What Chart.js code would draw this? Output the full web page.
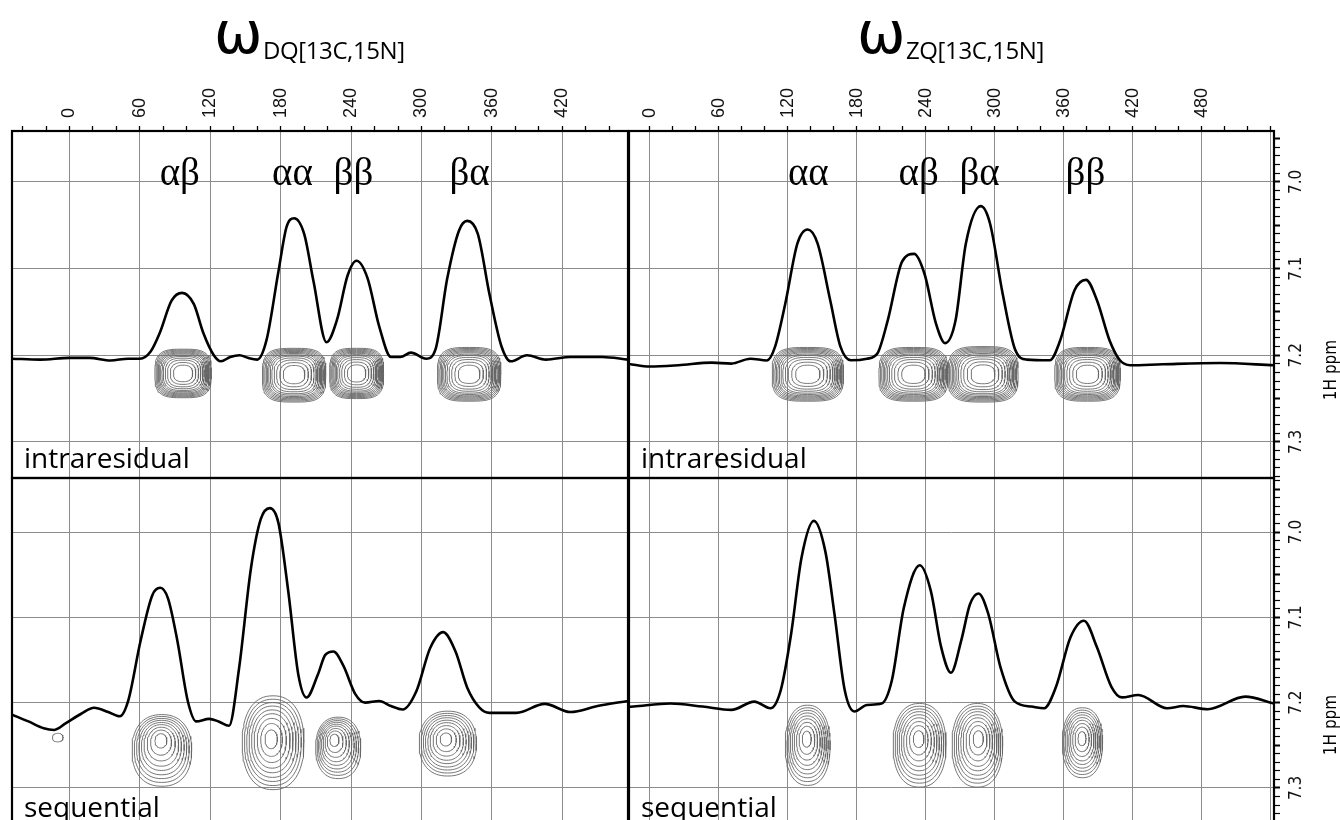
<!DOCTYPE html>
<html>
<head>
<meta charset="utf-8">
<script src="https://cdn.jsdelivr.net/npm/chart.js@4.4.1/dist/chart.umd.min.js"></script>
<style>
  html, body { margin: 0; padding: 0; background: #fff; overflow: hidden; }
  body { width: 1340px; height: 820px; position: relative; }
  .panel { position: absolute; }
  .panel canvas { display: block; }
  .txt { position: absolute; white-space: nowrap; color: #000; line-height: 1; }
  .omega { font-family: "DejaVu Sans", sans-serif; font-size: 58px; }
  .sub { font-family: "Open Sans", sans-serif; font-size: 24px; letter-spacing: -0.4px; }
  .name { font-family: "Open Sans", sans-serif; font-size: 28px; }
  .ppm { font-family: "Liberation Sans Narrow", "DejaVu Sans Condensed", sans-serif; font-size: 17px;
         transform: translate(-50%, -50%) rotate(-90deg); }
</style>
</head>
<body>

<div class="panel" style="left:0;top:50px"><canvas id="dqIntra" width="640" height="440"></canvas></div>
<div class="panel" style="left:617px;top:50px"><canvas id="zqIntra" width="723" height="440"></canvas></div>
<div class="panel" style="left:0;top:466px"><canvas id="dqSeq" width="640" height="356"></canvas></div>
<div class="panel" style="left:617px;top:466px"><canvas id="zqSeq" width="723" height="356"></canvas></div>

<div class="txt omega" style="left:214px;top:4px">ω</div>
<div class="txt sub" style="left:263px;top:38px">DQ[13C,15N]</div>
<div class="txt omega" style="left:857px;top:4px">ω</div>
<div class="txt sub" style="left:906px;top:38px">ZQ[13C,15N]</div>

<div class="txt name" style="left:24px;top:443px">intraresidual</div>
<div class="txt name" style="left:641px;top:443px">intraresidual</div>
<div class="txt name" style="left:24px;top:792px">sequential</div>
<div class="txt name" style="left:641px;top:792px">sequential</div>

<div class="txt ppm" style="left:1330px;top:370px">1H ppm</div>
<div class="txt ppm" style="left:1330px;top:725px">1H ppm</div>

<script>
// axis ranges (13C/15N frequency, 1H ppm)
const dqRange = [-49, 476];
const zqRange = [-18, 543];
const intraPpm = [6.9413, 7.3416];
const seqPpm = [6.9367, 7.3399];
const traceBase = 7.2;   // the 1D projections sit on the 7.2 ppm line

// labelled ticks
const dqTickLabels = [0, 60, 120, 180, 240, 300, 360, 420];
const zqTickLabels = [0, 60, 120, 180, 240, 300, 360, 420, 480];
const ppmTickLabels = [7.0, 7.1, 7.2, 7.3];

// 1D projections: x position, intensity (100 = 0.1 ppm of height)
const dqIntraX = [-49, -25, 0, 17, 35, 50, 60, 69, 77, 87, 96, 106, 114, 123, 129, 137, 145, 152, 160, 168, 178, 185, 191.5, 200, 208, 219, 228, 237, 244.6, 254, 264, 274, 282, 291, 304, 312, 322, 332, 339, 348, 358, 368, 376, 390, 406, 427, 454, 476];
const dqIntraI = [-4, -5, -3, -3, -6, -4, -4, 4, 26, 63, 72, 59, 26, 0, -7, -2, 0, -3, -5, 18, 96, 148, 158, 140, 85, 15, 41, 92, 109, 89, 33, -2, -2, 3, -4, 7, 89, 144, 155, 140, 70, 11, -7, 0, -5, -2, -2, -5];

const zqIntraX = [-18, 0, 25, 54, 71, 87.5, 102, 109, 118, 128.5, 137.4, 146, 157, 166, 175, 189, 198, 207, 219.5, 230, 239, 249, 257, 266, 275, 288, 296, 307, 318, 328, 348, 357, 369.5, 379.5, 389, 400, 409, 418, 446, 496, 543];
const zqIntraI = [-10, -13, -11.5, -8.5, -9.6, -4, -6, 9.6, 60, 129, 145, 129, 63.5, 9.6, -5.8, -4, 2, 40, 108, 117, 94, 36.6, 14, 40, 129, 172, 152, 71, 6, -5, -5.8, 17, 75, 87, 63.5, 17, -5.8, -11.5, -10.4, -9, -11.5];

const dqSeqX = [-49, -35, -22, -13, -3, 10, 21, 33, 43, 50, 60.5, 70.6, 77.3, 84, 92, 100.8, 108, 119, 127, 136, 144.5, 154.6, 163, 170.7, 178, 186.5, 195, 202, 211.7, 218, 225, 233.5, 243.6, 252, 264, 274, 284, 295.7, 307.4, 318.5, 329, 339, 349.4, 358, 381, 405, 427, 450, 476];
const dqSeqI = [-14, -22, -30, -32, -24, -13, -6, -11, -16, 2, 72, 126, 134.6, 122, 72, 2, -22, -19, -22, -27, 40, 157, 215, 228, 211, 130, 33, 6, 33, 56, 60, 43, 10, 0, 2, -4, -8, 13.6, 64, 82.6, 60, 17.5, -5.8, -12, -12, -1.5, -11, -4, 2];

const zqSeqX = [-18, -14, 18, 46, 71, 91, 105, 114, 123, 132, 142.8, 152.8, 160.7, 169.6, 178, 189, 201.7, 210.6, 221, 235, 244.5, 253.5, 262, 271, 278.5, 286, 294.5, 305, 317.6, 332, 343, 353.4, 366, 377.7, 389, 401.6, 410.6, 425, 450, 464, 485.5, 518, 543];
const zqSeqI = [-5, -4.6, -1, -4.6, -8.5, 1.2, -6.6, 14.7, 80.5, 169.5, 213, 177, 104, 14.7, -10.4, -2.7, -1, 26, 111, 161, 131, 65, 35, 73, 115, 128, 104, 42, 1.2, -4.6, -6.6, 18.6, 76.6, 96, 65, 18.6, 6.2, 9, -6.6, -4, -7.7, 7, -1];

// 2D cross peaks: [x, ppm of inner ring, half width x, half height ppm, outer shift x, outer shift ppm]
const dqIntraPeaks = [[96.8, 7.221, 24, 0.028, 0, 0], [191.4, 7.222, 27, 0.031, 0, 0.001], [244.7, 7.221, 23, 0.029, 0, 0], [340.6, 7.222, 27, 0.031, 0, 0]];
const zqIntraPeaks = [[137.5, 7.222, 31, 0.031, 0, 0], [229.4, 7.222, 30, 0.031, 0, 0], [289.9, 7.222, 30.5, 0.032, 0, 0], [380.8, 7.222, 28.5, 0.031, 0, 0]];
const dqSeqPeaks = [[77.7, 7.242, 25.4, 0.042, 1, 0.014], [171.5, 7.242, 26.3, 0.055, 2, 0.005], [225, 7.242, 19.2, 0.036, 4, 0.011], [320.4, 7.242, 24.4, 0.038, 2, 0.006]];
const dqSeqSmall = [[-10, 7.241, 4.5, 0.005, 0, 0]];
const zqSeqPeaks = [[136.4, 7.241, 19.5, 0.047, 1, 0.009], [233.7, 7.241, 23, 0.049, 1, 0.009], [286, 7.241, 22, 0.049, -1, 0.009], [375.9, 7.241, 17.5, 0.041, 0.5, 0.006]];

// contour levels as fraction of the outer ring
const intraRings = [1, 0.96, 0.92, 0.88, 0.84, 0.8, 0.75, 0.7, 0.63, 0.55, 0.45, 0.34];
const seqRings = [1, 0.92, 0.84, 0.76, 0.67, 0.58, 0.47, 0.35, 0.2];

// peak labels
const dqLabels = ['αβ', 'αα', 'ββ', 'βα'];
const dqLabelX = [94, 190, 242, 341];
const zqLabels = ['αα', 'αβ', 'βα', 'ββ'];
const zqLabelX = [138, 234, 287, 379];
const labelPpm = 7.004;

const gridGrey = '#8c8c8c';
const clear = 'rgba(0,0,0,0)';
const isMult = (v, step) => Math.abs(v / step - Math.round(v / step)) < 1e-6;
const inList = (v, list) => list.some(t => Math.abs(t - v) < 1e-6);

function ringPoints(peaks, rings, sq) {
  const pts = [];
  peaks.forEach(([px, pp, hw, hh, dx, dp]) => {
    rings.forEach(f => {
      const cx = px + dx * f, cy = pp + dp * f, n = 2 + sq * f;
      for (let k = 0; k <= 72; k++) {
        const t = Math.PI * 2 * k / 72, c = Math.cos(t), s = Math.sin(t);
        pts.push({
          x: cx + hw * f * Math.sign(c) * Math.pow(Math.abs(c), 2 / n),
          y: cy + hh * f * Math.sign(s) * Math.pow(Math.abs(s), 2 / n)
        });
      }
      pts.push({ x: cx, y: null });
    });
  });
  return pts;
}

const framePlugin = {
  id: 'frame',
  afterDraw(chart) {
    const { ctx, chartArea: a } = chart;
    ctx.save();
    ctx.strokeStyle = '#000';
    ctx.lineWidth = 2.2;
    ctx.strokeRect(a.left, a.top, a.right - a.left, a.bottom - a.top);
    ctx.restore();
  }
};

function labelPlugin(labels, xs) {
  return {
    id: 'peakLabels',
    afterDatasetsDraw(chart) {
      const { ctx } = chart;
      ctx.save();
      ctx.font = '39px "Liberation Serif", serif';
      ctx.fillStyle = '#000';
      ctx.textAlign = 'center';
      ctx.textBaseline = 'alphabetic';
      labels.forEach((t, i) => {
        ctx.fillText(t, chart.scales.x.getPixelForValue(xs[i]), chart.scales.y.getPixelForValue(labelPpm));
      });
      ctx.restore();
    }
  };
}

function makePanel(id, p) {
  const datasets = [{
    data: p.tx.map((x, i) => ({ x, y: p.ti[i] })),
    yAxisID: 'yI', showLine: true, borderColor: '#000', borderWidth: 2.6,
    pointRadius: 0, cubicInterpolationMode: 'monotone', order: 0
  }];
  p.contours.forEach(([peaks, rings]) => datasets.push({
    data: ringPoints(peaks, rings, p.sq),
    yAxisID: 'y', showLine: true, borderColor: '#666', borderWidth: 0.9,
    pointRadius: 0, spanGaps: false, order: 1
  }));

  const plugins = [framePlugin];
  if (p.labels) plugins.push(labelPlugin(p.labels, p.labelX));

  new Chart(document.getElementById(id), {
    type: 'scatter',
    data: { datasets },
    plugins,
    options: {
      responsive: false,
      animation: false,
      events: [],
      layout: { padding: p.pad },
      plugins: { legend: { display: false }, tooltip: { enabled: false } },
      scales: {
        x: {
          type: 'linear', position: 'top', min: p.xr[0], max: p.xr[1],
          afterFit: s => { s.height = p.top ? 70 : 0; s.paddingLeft = 0; s.paddingRight = 0; },
          border: { display: false },
          grid: {
            color: c => (c.tick && isMult(c.tick.value, 60)) ? gridGrey : clear,
            lineWidth: 1, drawTicks: p.top, tickLength: 5, tickColor: '#000', tickWidth: 1.3
          },
          ticks: {
            display: p.top, stepSize: 20, includeBounds: false, autoSkip: false,
            minRotation: 90, maxRotation: 90, padding: 8, labelOffset: 21.6, color: '#111',
            font: { family: 'Liberation Sans', size: 18 },
            callback: v => inList(v, p.xLabels) ? String(v) : ''
          }
        },
        y: {
          type: 'linear', position: p.right ? 'right' : 'left', reverse: true,
          min: p.yr[0], max: p.yr[1],
          afterFit: s => { s.width = p.right ? 66 : 0; s.paddingTop = 0; s.paddingBottom = 0; },
          border: { display: false },
          grid: {
            color: c => (c.tick && isMult(c.tick.value, 0.1)) ? gridGrey : clear,
            lineWidth: 1, drawTicks: p.right, tickLength: 6, tickColor: '#000',
            tickWidth: c => (c.tick && isMult(c.tick.value, 0.05)) ? 2 : 1.2
          },
          ticks: {
            display: p.right, stepSize: 0.01, includeBounds: false, autoSkip: false,
            minRotation: 90, maxRotation: 90, crossAlign: 'center', padding: 4, color: '#111',
            font: { family: '"Liberation Sans Narrow", "DejaVu Sans Condensed", sans-serif', size: 17 },
            callback: v => inList(v, ppmTickLabels) ? v.toFixed(1) : ''
          }
        },
        yI: {
          type: 'linear', display: false,
          min: (traceBase - p.yr[1]) * 1000, max: (traceBase - p.yr[0]) * 1000
        }
      }
    }
  });
}

makePanel('dqIntra', {
  xr: dqRange, yr: intraPpm, xLabels: dqTickLabels, tx: dqIntraX, ti: dqIntraI, sq: 1.4,
  contours: [[dqIntraPeaks, intraRings]], labels: dqLabels, labelX: dqLabelX,
  top: true, right: false, pad: { left: 12, right: 12, top: 11, bottom: 12 }
});
makePanel('zqIntra', {
  xr: zqRange, yr: intraPpm, xLabels: zqTickLabels, tx: zqIntraX, ti: zqIntraI, sq: 1.4,
  contours: [[zqIntraPeaks, intraRings]], labels: zqLabels, labelX: zqLabelX,
  top: true, right: true, pad: { left: 12, right: 0, top: 11, bottom: 12 }
});
makePanel('dqSeq', {
  xr: dqRange, yr: seqPpm, xLabels: dqTickLabels, tx: dqSeqX, ti: dqSeqI, sq: 0.3,
  contours: [[dqSeqPeaks, seqRings], [dqSeqSmall, [1]]],
  top: false, right: false, pad: { left: 12, right: 12, top: 12, bottom: 0 }
});
makePanel('zqSeq', {
  xr: zqRange, yr: seqPpm, xLabels: zqTickLabels, tx: zqSeqX, ti: zqSeqI, sq: 0.3,
  contours: [[zqSeqPeaks, seqRings]],
  top: false, right: true, pad: { left: 12, right: 0, top: 12, bottom: 0 }
});
</script>
</body>
</html>
